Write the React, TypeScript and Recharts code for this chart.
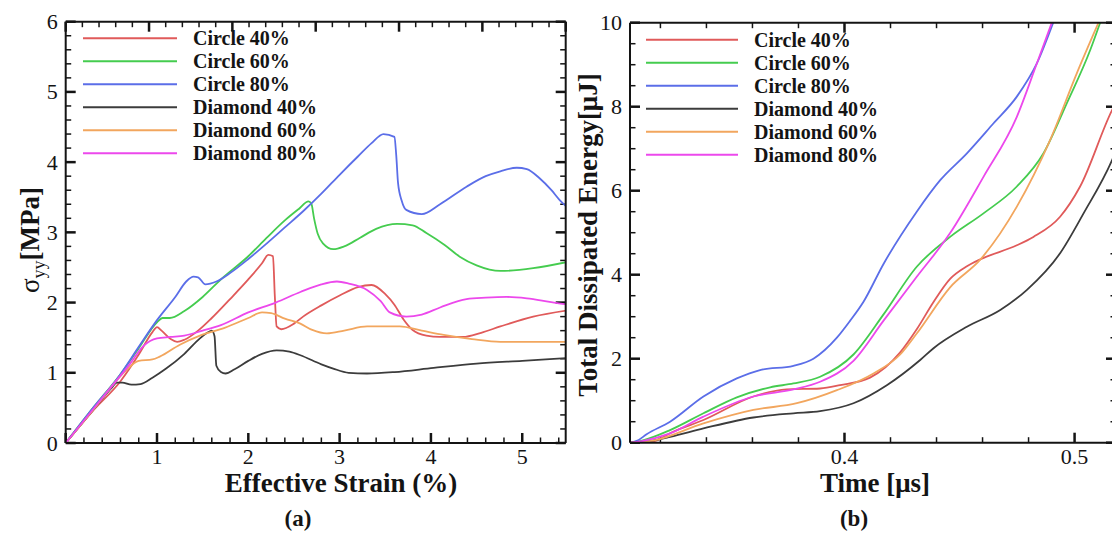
import React from 'react';
import { LineChart, Line, XAxis, YAxis, Legend, ReferenceLine } from 'recharts';

type Pt = [number, number];

const SERIES_NAMES = ['Circle 40%', 'Circle 60%', 'Circle 80%', 'Diamond 40%', 'Diamond 60%', 'Diamond 80%'];
const SERIES_COLORS = ['#e05a5a', '#45cc4f', '#5b6ee8', '#3c3c3c', '#f2a65e', '#ec48ec'];

// ---------- Panel (a): stress vs effective strain ----------
const stressCircle40: Pt[] = [
  [0, 0], [0.3, 0.46], [0.6, 0.88], [0.8, 1.26], [0.95, 1.58], [1.0, 1.65], [1.05, 1.6], [1.15, 1.48],
  [1.22, 1.44], [1.3, 1.47], [1.45, 1.6], [1.6, 1.78], [1.8, 2.05], [2.0, 2.33], [2.15, 2.56], [2.22, 2.68],
  [2.27, 2.66], [2.29, 2.1], [2.31, 1.66], [2.36, 1.62], [2.5, 1.7], [2.6, 1.8], [2.8, 1.96], [3.0, 2.1],
  [3.2, 2.22], [3.35, 2.25], [3.5, 2.12], [3.6, 1.97], [3.7, 1.76], [3.8, 1.61], [3.95, 1.53], [4.1, 1.51],
  [4.35, 1.51], [4.55, 1.57], [4.76, 1.66], [5.12, 1.8], [5.5, 1.89],
];
const stressCircle60: Pt[] = [
  [0, 0], [0.3, 0.5], [0.6, 0.98], [0.8, 1.35], [1.0, 1.72], [1.06, 1.78], [1.14, 1.78], [1.3, 1.88],
  [1.5, 2.08], [1.7, 2.33], [2.0, 2.66], [2.2, 2.92], [2.4, 3.17], [2.55, 3.33], [2.66, 3.44], [2.69, 3.41],
  [2.72, 3.2], [2.76, 2.98], [2.82, 2.84], [2.93, 2.76], [3.05, 2.8], [3.22, 2.92], [3.4, 3.05], [3.63, 3.12],
  [3.8, 3.1], [3.95, 2.99], [4.15, 2.82], [4.32, 2.65], [4.5, 2.53], [4.76, 2.45], [5.12, 2.49], [5.5, 2.58],
];
const stressCircle80: Pt[] = [
  [0, 0], [0.3, 0.5], [0.6, 0.98], [0.8, 1.37], [1.0, 1.75], [1.2, 2.08], [1.32, 2.3], [1.4, 2.37],
  [1.45, 2.36], [1.53, 2.26], [1.65, 2.3], [1.8, 2.42], [2.0, 2.62], [2.2, 2.84], [2.4, 3.07], [2.6, 3.3],
  [2.8, 3.55], [3.0, 3.82], [3.2, 4.08], [3.35, 4.27], [3.48, 4.4], [3.6, 4.36], [3.62, 4.1], [3.64, 3.7],
  [3.68, 3.45], [3.73, 3.32], [3.9, 3.26], [4.1, 3.4], [4.39, 3.65], [4.6, 3.8], [4.76, 3.87], [4.94, 3.92],
  [5.05, 3.9], [5.19, 3.77], [5.32, 3.6], [5.41, 3.46], [5.5, 3.35],
];
const stressDiamond40: Pt[] = [
  [0, 0], [0.3, 0.47], [0.5, 0.78], [0.56, 0.86], [0.62, 0.86], [0.72, 0.83], [0.82, 0.84], [0.95, 0.93],
  [1.1, 1.06], [1.3, 1.27], [1.47, 1.49], [1.55, 1.57], [1.6, 1.6], [1.63, 1.52], [1.65, 1.1], [1.7, 1.01],
  [1.75, 0.99], [1.85, 1.05], [2.0, 1.17], [2.15, 1.27], [2.31, 1.32], [2.45, 1.3], [2.57, 1.25], [2.8, 1.12],
  [2.93, 1.06], [3.1, 1.0], [3.3, 0.99], [3.6, 1.01], [4.03, 1.07], [4.5, 1.13], [5.0, 1.17], [5.5, 1.21],
];
const stressDiamond60: Pt[] = [
  [0, 0], [0.3, 0.47], [0.5, 0.8], [0.65, 1.02], [0.8, 1.17], [0.95, 1.19], [1.03, 1.23], [1.25, 1.4],
  [1.47, 1.53], [1.74, 1.64], [2.0, 1.78], [2.15, 1.86], [2.25, 1.85], [2.4, 1.77], [2.57, 1.7], [2.7, 1.61],
  [2.86, 1.56], [3.05, 1.6], [3.3, 1.66], [3.66, 1.66], [3.9, 1.6], [4.14, 1.54], [4.45, 1.48], [4.76, 1.44],
  [5.1, 1.44], [5.5, 1.44],
];
const stressDiamond80: Pt[] = [
  [0, 0], [0.3, 0.48], [0.5, 0.8], [0.7, 1.12], [0.85, 1.38], [1.0, 1.49], [1.15, 1.51], [1.3, 1.53],
  [1.5, 1.6], [1.7, 1.68], [2.0, 1.86], [2.3, 2.0], [2.57, 2.15], [2.8, 2.26], [2.97, 2.3], [3.1, 2.27],
  [3.3, 2.18], [3.45, 2.02], [3.55, 1.86], [3.73, 1.8], [3.9, 1.83], [4.1, 1.93], [4.39, 2.05], [4.6, 2.07],
  [4.83, 2.08], [5.05, 2.06], [5.3, 2.01], [5.5, 1.97],
];

// ---------- Panel (b): dissipated energy vs time ----------
const energyCircle40: Pt[] = [
  [0.3068, 0], [0.3169, 0.03], [0.325, 0.25], [0.3387, 0.54], [0.3604, 1.1], [0.3749, 1.27], [0.3894, 1.29],
  [0.3981, 1.37], [0.4111, 1.55], [0.4242, 2.15], [0.4314, 2.7], [0.4387, 3.35], [0.4459, 3.9], [0.4532, 4.2],
  [0.4592, 4.37], [0.4749, 4.7], [0.4821, 4.9], [0.4937, 5.38], [0.5024, 6.1], [0.5163, 7.92], [0.518, 8.1],
];
const energyCircle60: Pt[] = [
  [0.3068, 0], [0.312, 0.05], [0.3242, 0.3], [0.3387, 0.7], [0.3532, 1.08], [0.3677, 1.32], [0.3778, 1.41],
  [0.3894, 1.57], [0.4039, 2.1], [0.4169, 3.05], [0.4314, 4.19], [0.4459, 4.9], [0.4604, 5.46], [0.4749, 6.1],
  [0.4865, 6.89], [0.4966, 8.08], [0.5068, 9.35], [0.5111, 10],
];
const energyCircle80: Pt[] = [
  [0.3068, 0], [0.31, 0.05], [0.314, 0.2], [0.3242, 0.5], [0.3387, 1.1], [0.3532, 1.53], [0.3633, 1.73],
  [0.3778, 1.83], [0.3865, 2.0], [0.3967, 2.5], [0.4024, 2.9], [0.4082, 3.35], [0.4169, 4.25], [0.4314, 5.5],
  [0.4416, 6.25], [0.4532, 6.89], [0.4647, 7.6], [0.4749, 8.24], [0.4836, 9.03], [0.4907, 10],
];
const energyDiamond40: Pt[] = [
  [0.3068, 0], [0.315, 0.04], [0.3242, 0.14], [0.3387, 0.34], [0.3604, 0.6], [0.3778, 0.7], [0.3894, 0.75],
  [0.4039, 0.94], [0.4184, 1.37], [0.4329, 1.97], [0.4387, 2.25], [0.4532, 2.76], [0.4677, 3.16],
  [0.4793, 3.64], [0.4937, 4.51], [0.5039, 5.46], [0.5163, 6.73], [0.518, 6.95],
];
const energyDiamond60: Pt[] = [
  [0.3068, 0], [0.3169, 0.05], [0.3387, 0.46], [0.3604, 0.78], [0.3793, 0.94], [0.3967, 1.25], [0.4126, 1.65],
  [0.4242, 2.1], [0.4314, 2.6], [0.4459, 3.7], [0.4592, 4.37], [0.4749, 5.62], [0.4894, 7.21], [0.501, 8.8],
  [0.5104, 10],
];
const energyDiamond80: Pt[] = [
  [0.3068, 0], [0.312, 0.04], [0.3242, 0.22], [0.3387, 0.62], [0.3604, 1.1], [0.3778, 1.27], [0.3894, 1.45],
  [0.4039, 1.95], [0.4169, 2.9], [0.4314, 3.95], [0.4459, 4.99], [0.4604, 6.33], [0.4749, 7.76],
  [0.4836, 9.03], [0.4901, 10],
];

// ---------- Axis ticks ----------
const strainTicks = [0, 0.2, 0.4, 0.6, 0.8, 1, 1.2, 1.4, 1.6, 1.8, 2, 2.2, 2.4, 2.6, 2.8, 3, 3.2, 3.4, 3.6, 3.8, 4, 4.2, 4.4, 4.6, 4.8, 5, 5.2, 5.4];
const stressTicks = [0, 0.2, 0.4, 0.6, 0.8, 1, 1.2, 1.4, 1.6, 1.8, 2, 2.2, 2.4, 2.6, 2.8, 3, 3.2, 3.4, 3.6, 3.8, 4, 4.2, 4.4, 4.6, 4.8, 5, 5.2, 5.4, 5.6, 5.8, 6];
const topFrameTicksA = [0, 0.2, 0.4, 0.6, 0.8, 1, 1.2, 1.4, 1.6, 1.8, 2, 2.2, 2.4, 2.6, 2.8, 3, 3.2, 3.4, 3.6, 3.8, 4, 4.2, 4.4, 4.6, 4.8, 5, 5.2, 5.4, 5.6, 5.8, 6];
const timeTicks = [0.32, 0.34, 0.36, 0.38, 0.4, 0.42, 0.44, 0.46, 0.48, 0.5];
const energyTicks = [0, 0.5, 1, 1.5, 2, 2.5, 3, 3.5, 4, 4.5, 5, 5.5, 6, 6.5, 7, 7.5, 8, 8.5, 9, 9.5, 10];

const SERIF = '"Liberation Serif", "Times New Roman", serif';
const INK = '#141414';

// axis geometry (layout)
const A_X: [number, number] = [0, 5.476];
const A_Y: [number, number] = [0, 6];
const A_TOP: [number, number] = [0, 6];
const B_X: [number, number] = [0.30678, 0.518];
const B_Y: [number, number] = [0, 10];
const A_PLOT = { w: 500, h: 421.3 };
const B_PLOT = { w: 486, h: 420 };
const MAJOR_LEN = 10;
const MINOR_LEN = 5.5;

const toRows = (pts: Pt[]) => pts.map(([x, y]) => ({ x, y }));

const seriesA = [stressCircle40, stressCircle60, stressCircle80, stressDiamond40, stressDiamond60, stressDiamond80];
const seriesB = [energyCircle40, energyCircle60, energyCircle80, energyDiamond40, energyDiamond60, energyDiamond80];

const near = (v: number) => Math.abs(v - Math.round(v)) < 1e-6;
const tenth = (v: number) => Math.abs(v * 10 - Math.round(v * 10)) < 1e-6;
const even = (v: number) => Math.abs(v / 2 - Math.round(v / 2)) < 1e-6;

type Seg = { key: string; seg: [{ x: number; y: number }, { x: number; y: number }]; major: boolean };

// Inward frame tick marks, drawn as ReferenceLine segments through the axis scales
function frameSegments(
  xDom: [number, number], yDom: [number, number], plot: { w: number; h: number },
  bottom: number[], bottomMajor: (v: number) => boolean,
  top: number[], topMajor: (v: number) => boolean, topToX: (v: number) => number,
  side: number[], sideMajor: (v: number) => boolean,
): Seg[] {
  const ux = (xDom[1] - xDom[0]) / plot.w;
  const uy = (yDom[1] - yDom[0]) / plot.h;
  const out: Seg[] = [];
  bottom.forEach((v) => {
    const m = bottomMajor(v);
    const l = (m ? MAJOR_LEN : MINOR_LEN) * uy;
    out.push({ key: `b${v}`, major: m, seg: [{ x: v, y: yDom[0] }, { x: v, y: yDom[0] + l }] });
  });
  top.forEach((v) => {
    const m = topMajor(v);
    const l = (m ? MAJOR_LEN : MINOR_LEN) * uy;
    const x = topToX(v);
    out.push({ key: `t${v}`, major: m, seg: [{ x, y: yDom[1] }, { x, y: yDom[1] - l }] });
  });
  side.forEach((v) => {
    const m = sideMajor(v);
    const l = (m ? MAJOR_LEN : MINOR_LEN) * ux;
    out.push({ key: `l${v}`, major: m, seg: [{ x: xDom[0], y: v }, { x: xDom[0] + l, y: v }] });
    out.push({ key: `r${v}`, major: m, seg: [{ x: xDom[1], y: v }, { x: xDom[1] - l, y: v }] });
  });
  return out;
}

const segsA = frameSegments(
  A_X, A_Y, A_PLOT, strainTicks, near, topFrameTicksA, near,
  (v) => A_X[0] + ((v - A_TOP[0]) / (A_TOP[1] - A_TOP[0])) * (A_X[1] - A_X[0]),
  stressTicks, near,
);
const segsB = frameSegments(B_X, B_Y, B_PLOT, timeTicks, tenth, timeTicks, tenth, (v) => v, energyTicks, even);

function labelTick(side: 'bottom' | 'left', isMajor: (v: number) => boolean, fmt: (v: number) => string | null) {
  return (props: any) => {
    const x = Number(props.x);
    const y = Number(props.y);
    const v = Number(props.payload?.value);
    const label = isMajor(v) ? fmt(v) : null;
    if (label === null) return <g />;
    return side === 'bottom' ? (
      <text x={x} y={y + 21} textAnchor="middle" fontFamily={SERIF} fontSize={22} fill={INK}>{label}</text>
    ) : (
      <text x={x - 8} y={y + 7.5} textAnchor="end" fontFamily={SERIF} fontSize={22} fill={INK}>{label}</text>
    );
  };
}

function legendContent(lineX1: number, lineX2: number, textX: number, firstY: number) {
  return () => (
    <svg width={560} height={190} style={{ display: 'block', overflow: 'visible' }}>
      {SERIES_NAMES.map((name, i) => {
        const y = firstY + 23 * i;
        return (
          <g key={name}>
            <line x1={lineX1} x2={lineX2} y1={y} y2={y} stroke={SERIES_COLORS[i]} strokeWidth={2} />
            <text x={textX} y={y + 7} fontFamily={SERIF} fontWeight={700} fontSize={20} fill={INK}>{name}</text>
          </g>
        );
      })}
    </svg>
  );
}

const axisLineStyle = { stroke: INK, strokeWidth: 2 };

function renderSegs(segs: Seg[]) {
  return segs.map((s) => (
    <ReferenceLine
      key={s.key} xAxisId="b" yAxisId="l" segment={s.seg} ifOverflow="visible"
      stroke={INK} strokeWidth={s.major ? 2.5 : 1.5} strokeOpacity={1}
    />
  ));
}

function PanelA() {
  return (
    <LineChart width={580} height={533} margin={{ top: 11.7, right: 4.3, bottom: 0, left: 0 }}>
      <XAxis
        xAxisId="b" type="number" dataKey="x" domain={A_X} allowDataOverflow ticks={strainTicks}
        interval={0} tickSize={0} tickMargin={0} tickLine={false} axisLine={axisLineStyle} height={90}
        tick={labelTick('bottom', near, (v) => (v > 0 ? String(Math.round(v)) : null))}
        label={() => (
          <text x={341} y={492} textAnchor="middle" fontFamily={SERIF} fontWeight={700} fontSize={27} fill={INK}>
            Effective Strain (%)
          </text>
        )}
      />
      <XAxis
        xAxisId="t" orientation="top" type="number" domain={A_TOP} allowDataOverflow ticks={topFrameTicksA}
        interval={0} tick={false} tickLine={false} axisLine={axisLineStyle} height={10}
        label={() => (
          <text x={298} y={526} textAnchor="middle" fontFamily={SERIF} fontWeight={700} fontSize={23} fill={INK}>(a)</text>
        )}
      />
      <YAxis
        yAxisId="l" type="number" domain={A_Y} allowDataOverflow ticks={stressTicks} interval={0}
        tickSize={0} tickMargin={0} tickLine={false} axisLine={axisLineStyle} width={65.7}
        tick={labelTick('left', near, (v) => String(Math.round(v)))}
        label={() => (
          <text transform="translate(39,240) rotate(-90)" textAnchor="middle" fontFamily={SERIF} fontSize={27} fill={INK}>
            <tspan>σ</tspan>
            <tspan fontSize={18} dy={6}>yy</tspan>
            <tspan dy={-6} fontWeight={700}>[MPa]</tspan>
          </text>
        )}
      />
      <YAxis
        yAxisId="r" orientation="right" type="number" domain={A_Y} allowDataOverflow ticks={stressTicks}
        interval={0} tick={false} tickLine={false} axisLine={axisLineStyle} width={10}
      />
      {renderSegs(segsA)}
      <Legend
        layout="horizontal" verticalAlign="middle" align="center"
        wrapperStyle={{ left: 0, top: 0, width: 560, height: 190 }}
        content={legendContent(83, 177, 193, 38.3)}
      />
      {seriesA.map((pts, i) => (
        <Line
          key={SERIES_NAMES[i]} name={SERIES_NAMES[i]} data={toRows(pts)} dataKey="y" xAxisId="b" yAxisId="l"
          type="monotone" stroke={SERIES_COLORS[i]} strokeWidth={1.8} dot={false} activeDot={false}
          isAnimationActive={false}
        />
      ))}
    </LineChart>
  );
}

function PanelB() {
  return (
    <LineChart width={580} height={533} margin={{ top: 12.7, right: 14, bottom: 0, left: 0 }}>
      <XAxis
        xAxisId="b" type="number" dataKey="x" domain={B_X} allowDataOverflow ticks={timeTicks}
        interval={0} tickSize={0} tickMargin={0} tickLine={false} axisLine={axisLineStyle} height={90.3}
        tick={labelTick('bottom', tenth, (v) => v.toFixed(1))}
        label={() => (
          <text x={315} y={492} textAnchor="middle" fontFamily={SERIF} fontWeight={700} fontSize={27} fill={INK}>
            Time [μs]
          </text>
        )}
      />
      <XAxis
        xAxisId="t" orientation="top" type="number" domain={B_X} allowDataOverflow ticks={timeTicks}
        interval={0} tick={false} tickLine={false} axisLine={axisLineStyle} height={10}
        label={() => (
          <text x={294} y={526} textAnchor="middle" fontFamily={SERIF} fontWeight={700} fontSize={23} fill={INK}>(b)</text>
        )}
      />
      <YAxis
        yAxisId="l" type="number" domain={B_Y} allowDataOverflow ticks={energyTicks} interval={0}
        tickSize={0} tickMargin={0} tickLine={false} axisLine={axisLineStyle} width={70}
        tick={labelTick('left', even, (v) => String(Math.round(v)))}
        label={() => (
          <text transform="translate(37,235) rotate(-90)" textAnchor="middle" fontFamily={SERIF} fontWeight={700} fontSize={27} fill={INK}>
            Total Dissipated Energy[μJ]
          </text>
        )}
      />
      <YAxis
        yAxisId="r" orientation="right" type="number" domain={B_Y} allowDataOverflow ticks={energyTicks}
        interval={0} tick={false} tickLine={false} axisLine={axisLineStyle} width={10}
      />
      {renderSegs(segsB)}
      <Legend
        layout="horizontal" verticalAlign="middle" align="center"
        wrapperStyle={{ left: 0, top: 0, width: 560, height: 190 }}
        content={legendContent(86, 178, 194, 39.7)}
      />
      {seriesB.map((pts, i) => (
        <Line
          key={SERIES_NAMES[i]} name={SERIES_NAMES[i]} data={toRows(pts)} dataKey="y" xAxisId="b" yAxisId="l"
          type="monotone" stroke={SERIES_COLORS[i]} strokeWidth={1.8} dot={false} activeDot={false}
          isAnimationActive={false}
        />
      ))}
    </LineChart>
  );
}

export default function App() {
  return (
    <div style={{ position: 'absolute', left: 0, top: 0, width: 1112, height: 533, overflow: 'hidden', background: '#fff' }}>
      <div style={{ position: 'absolute', left: 0, top: 0, width: 580, height: 533 }}>
        <PanelA />
      </div>
      <div style={{ position: 'absolute', left: 560, top: 0, width: 580, height: 533 }}>
        <PanelB />
      </div>
    </div>
  );
}
